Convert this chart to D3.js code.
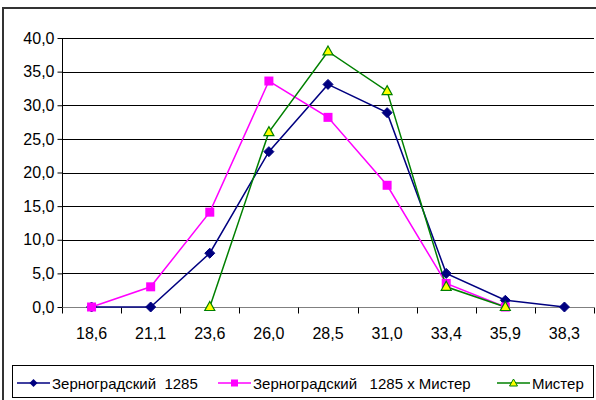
<!DOCTYPE html>
<html>
<head>
<meta charset="utf-8">
<script src="https://cdn.jsdelivr.net/npm/d3@7"></script>
<style>
  html, body { margin: 0; padding: 0; background: #fff; }
  svg { display: block; font-family: "Liberation Sans", Arial, sans-serif; }
</style>
</head>
<body>
<svg id="chart" width="596" height="400"></svg>
<script>
// Categories (x axis) and series values
const categories = ["18,6", "21,1", "23,6", "26,0", "28,5", "31,0", "33,4", "35,9", "38,3"];
const seriesNames = ["Зерноградский  1285", "Зерноградский   1285 x Мистер", "Мистер"];
const zernogradsky = [0, 0, 8.0, 23.1, 33.1, 28.9, 5.0, 1.0, 0];
const zernogradskyMister = [0, 3.0, 14.1, 33.6, 28.2, 18.1, 3.5, 0, null];
const mister = [null, null, 0, 26.0, 38.0, 32.1, 3.0, 0, null];
const yTicks = [0, 5, 10, 15, 20, 25, 30, 35, 40];

const svg = d3.select("#chart");

// Outer frame
svg.append("rect")
  .attr("x", 3).attr("y", 8).attr("width", 700).attr("height", 700)
  .attr("fill", "none").attr("stroke", "#333").attr("stroke-width", 2);

const plot = { left: 62, right: 594, top: 38, bottom: 307 };

const x = d3.scaleBand().domain(categories).range([plot.left, plot.right]);
const y = d3.scaleLinear().domain([0, 40]).range([plot.bottom, plot.top]);

// Horizontal gridlines
svg.append("g")
  .selectAll("line")
  .data(yTicks.filter(d => d > 0))
  .join("line")
  .attr("x1", plot.left).attr("x2", plot.right)
  .attr("y1", d => Math.round(y(d)) + 0.5).attr("y2", d => Math.round(y(d)) + 0.5)
  .attr("stroke", "#000").attr("stroke-width", 1);

// Y axis
const yAxis = svg.append("g")
  .attr("transform", `translate(${plot.left + 0.5},0)`)
  .call(d3.axisLeft(y).tickValues(yTicks).tickSize(5).tickPadding(3)
    .tickFormat(d => d3.format(".1f")(d).replace(".", ",")));
yAxis.select(".domain").attr("stroke", "#000").attr("d", `M0,${plot.top}V${plot.bottom}`);
yAxis.selectAll(".tick line").attr("stroke", "#000");
yAxis.selectAll(".tick text").attr("font-size", 16).attr("fill", "#000")
  .attr("font-family", "Liberation Sans, Arial, sans-serif");

// X axis: ticks sit on category boundaries
const xAxis = svg.append("g")
  .attr("transform", `translate(0,${Math.round(plot.bottom) + 0.5})`);
xAxis.append("line")
  .attr("x1", plot.left).attr("x2", plot.right)
  .attr("stroke", "#808080").attr("stroke-width", 1);
const boundaries = categories.map(c => x(c)).concat([x(categories[categories.length - 1]) + x.bandwidth()]);
xAxis.selectAll("line.tk")
  .data(boundaries)
  .join("line").attr("class", "tk")
  .attr("x1", d => Math.round(d) + 0.5).attr("x2", d => Math.round(d) + 0.5)
  .attr("y1", 0).attr("y2", 6)
  .attr("stroke", "#000");
xAxis.selectAll("text")
  .data(categories)
  .join("text")
  .attr("x", d => x(d) + x.bandwidth() / 2)
  .attr("y", 31.5)
  .attr("text-anchor", "middle")
  .attr("font-size", 16)
  .attr("fill", "#000")
  .text(d => d);

const cx = i => x(categories[i]) + x.bandwidth() / 2;

const series = [
  { name: seriesNames[0], values: zernogradsky, color: "#000080", marker: "diamond" },
  { name: seriesNames[1], values: zernogradskyMister, color: "#FF00FF", marker: "square" },
  { name: seriesNames[2], values: mister, color: "#008000", marker: "triangle" }
];

function drawMarker(g, type, color) {
  if (type === "diamond") {
    g.append("path").attr("d", "M0,-5L5,0L0,5L-5,0Z").attr("fill", color).attr("stroke", color);
  } else if (type === "square") {
    g.append("rect").attr("x", -4.5).attr("y", -4.5).attr("width", 9).attr("height", 9)
      .attr("fill", color);
  } else {
    g.append("path").attr("d", "M0,-5.5L5,3.5L-5,3.5Z").attr("fill", "#FFFF00")
      .attr("stroke", color).attr("stroke-width", 1.2);
  }
}

const line = d3.line()
  .defined(d => d.v !== null)
  .x(d => cx(d.i))
  .y(d => y(d.v));

series.forEach(s => {
  const pts = s.values.map((v, i) => ({ v, i }));
  svg.append("path")
    .datum(pts)
    .attr("d", line)
    .attr("fill", "none")
    .attr("stroke", s.color)
    .attr("stroke-width", 1.5);
});

series.forEach(s => {
  s.values.forEach((v, i) => {
    if (v === null) return;
    const g = svg.append("g").attr("transform", `translate(${cx(i)},${y(v)})`);
    drawMarker(g, s.marker, s.color);
  });
});

// Legend
const legend = svg.append("g");
legend.append("rect")
  .attr("x", 12.5).attr("y", 365.5).attr("width", 581).attr("height", 32)
  .attr("fill", "#fff").attr("stroke", "#000").attr("stroke-width", 1);

const legendItems = [
  { s: series[0], x: 17 },
  { s: series[1], x: 218 },
  { s: series[2], x: 497 }
];
legendItems.forEach(it => {
  const g = legend.append("g").attr("transform", `translate(${it.x},383)`);
  g.append("line").attr("x1", 0).attr("x2", 33).attr("y1", 0).attr("y2", 0)
    .attr("stroke", it.s.color).attr("stroke-width", 1.5);
  const m = g.append("g").attr("transform", "translate(16.5,0)");
  if (it.s.marker === "triangle") {
    m.append("path").attr("d", "M0,-4L4,3L-4,3Z").attr("fill", "#FFFF00")
      .attr("stroke", it.s.color).attr("stroke-width", 1);
  } else if (it.s.marker === "square") {
    m.append("rect").attr("x", -3.5).attr("y", -3.5).attr("width", 7).attr("height", 7)
      .attr("fill", it.s.color);
  } else {
    m.append("path").attr("d", "M0,-4L4,0L0,4L-4,0Z").attr("fill", it.s.color);
  }
  g.append("text")
    .attr("x", 35).attr("y", 5.5)
    .attr("font-size", 15)
    .attr("fill", "#000")
    .style("white-space", "pre")
    .attr("xml:space", "preserve")
    .text(it.s.name);
});
</script>
</body>
</html>
